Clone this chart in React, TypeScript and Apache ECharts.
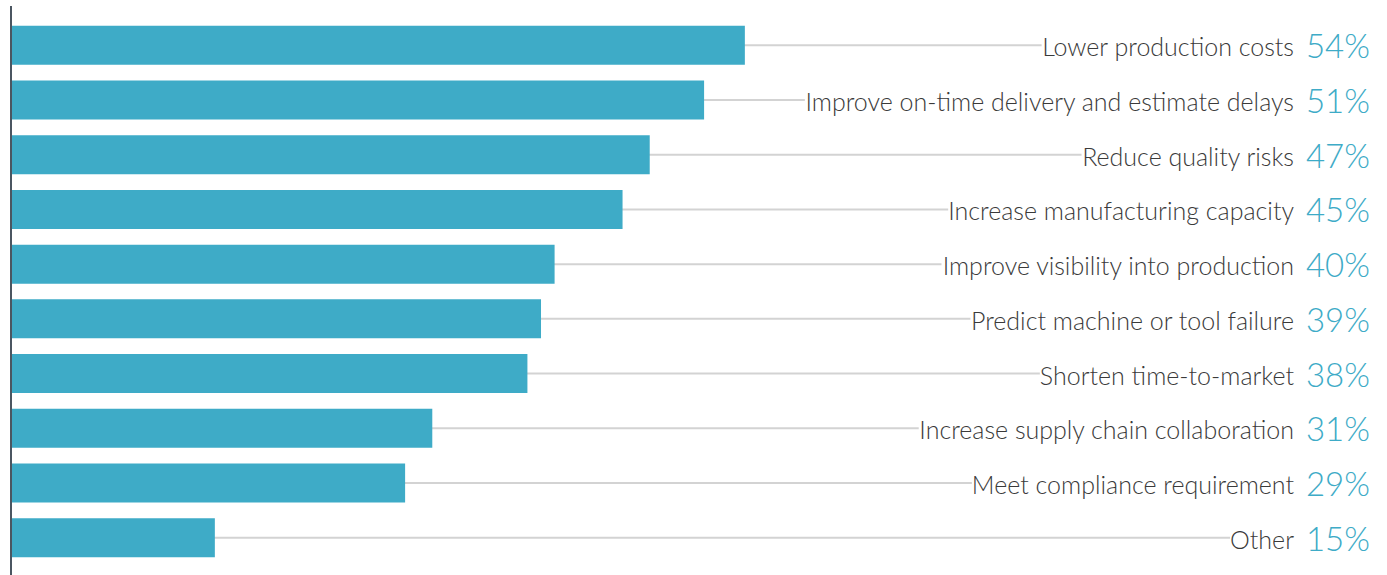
import React, { useEffect, useRef } from "react";
import * as echarts from "echarts";

const categories = [
  "Lower production costs",
  "Improve on-time delivery and estimate delays",
  "Reduce quality risks",
  "Increase manufacturing capacity",
  "Improve visibility into production",
  "Predict machine or tool failure",
  "Shorten time-to-market",
  "Increase supply chain collaboration",
  "Meet compliance requirement",
  "Other",
];
const values = [54, 51, 47, 45, 40, 39, 38, 31, 29, 15];
const axisMax = 100;

export default function App() {
  const ref = useRef<HTMLDivElement>(null);
  useEffect(() => {
    const chart = echarts.init(ref.current!, undefined, { renderer: "svg" });
    const font = "Lato, 'Open Sans', sans-serif";
    chart.setOption({
      animation: false,
      grid: { left: 11, right: 17, top: 18, bottom: 10, containLabel: false },
      xAxis: {
        type: "value",
        min: 0,
        max: axisMax,
        show: false,
      },
      yAxis: [
        {
          type: "category",
          data: categories,
          inverse: true,
          axisLine: { show: false },
          axisTick: { show: false },
          axisLabel: { show: false },
        },
        {
          type: "category",
          data: categories,
          inverse: true,
          position: "right",
          z: 5,
          axisLine: { show: false },
          axisTick: { show: false },
          axisLabel: {
            inside: true,
            margin: 0,
            backgroundColor: "#ffffff",
            formatter: (name: string) => {
              const i = categories.indexOf(name);
              return `{a|${name}}{b|${values[i]}%}`;
            },
            rich: {
              a: {
                fontFamily: font,
                fontWeight: 300,
                fontSize: 25,
                color: "#3a3a3a",
                padding: [2, 12, 0, 0],
              },
              b: {
                fontFamily: font,
                fontWeight: 300,
                fontSize: 33,
                color: "#3eabc7",
              },
            },
          },
        },
      ],
      graphic: [
        {
          type: "line",
          shape: { x1: 11, y1: 6, x2: 11, y2: 575 },
          style: { stroke: "#4b5661", lineWidth: 2 },
          z: 10,
        },
      ],
      series: [
        {
          type: "bar",
          yAxisIndex: 1,
          data: categories.map(() => axisMax),
          barWidth: 2,
          itemStyle: { color: "#d3d3d3" },
          z: 1,
          silent: true,
        },
        {
          type: "bar",
          yAxisIndex: 0,
          data: values,
          barWidth: 39,
          itemStyle: { color: "#3eabc7" },
          z: 3,
        },
      ],
    });
    return () => chart.dispose();
  }, []);
  return (
    <div
      ref={ref}
      style={{ position: "fixed", left: 0, top: 0, width: 1387, height: 575, background: "#fff" }}
    />
  );
}
